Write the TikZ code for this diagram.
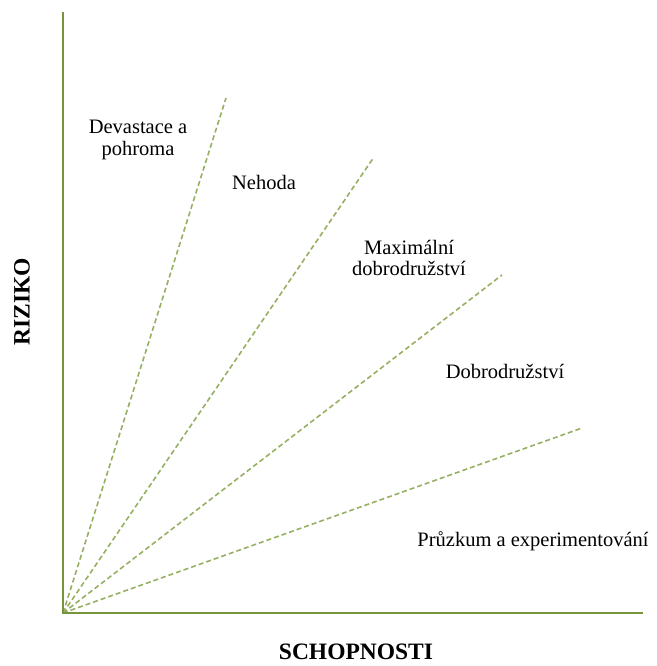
\documentclass[tikz,border=0pt]{standalone}
\usepackage{fontspec}
\setmainfont{Liberation Serif}
\begin{document}
\begin{tikzpicture}[x=1pt,y=1pt,
  axisline/.style={draw={rgb,255:red,119;green,147;blue,60}, line width=1.5pt},
  zoneline/.style={draw={rgb,255:red,150;green,176;blue,98}, line width=1.6pt, dash pattern=on 5pt off 3pt},
  zonelabel/.style={font=\fontsize{20.5}{21.5}\selectfont, align=center, inner sep=0pt, text=black},
  axislabel/.style={font=\fontsize{23.5}{25}\selectfont\bfseries, inner sep=0pt, text=black}]
\useasboundingbox (0,0) rectangle (656,666);
% origin and axis end points
\coordinate (O) at (63,53);
\coordinate (ytop) at (63,654);
\coordinate (xend) at (643,53);
% zone boundaries
\coordinate (b1) at (226,568);
\coordinate (b2) at (374,509);
\coordinate (b3) at (502,391);
\coordinate (b4) at (582,238);
\draw[zoneline] (O) -- (b1);
\draw[zoneline] (O) -- (b2);
\draw[zoneline] (O) -- (b3);
\draw[zoneline] (O) -- (b4);
\draw[axisline] (ytop) -- (O) -- (xend);
% zone names
\node[zonelabel] (z1) at (138,526) {Devastace a\\pohroma};
\node[zonelabel, anchor=base] (z2) at (264,476) {Nehoda};
\node[zonelabel] (z3) at (409,408) {Maximální\\dobrodružství};
\node[zonelabel, anchor=base] (z4) at (505,287) {Dobrodružství};
\node[zonelabel, anchor=base] (z5) at (533,119) {Průzkum a experimentování};
% axis names
\node[axislabel, rotate=90] (ylab) at (22,364) {RIZIKO};
\node[axislabel, anchor=base] (xlab) at (356,6) {SCHOPNOSTI};
\end{tikzpicture}
\end{document}
